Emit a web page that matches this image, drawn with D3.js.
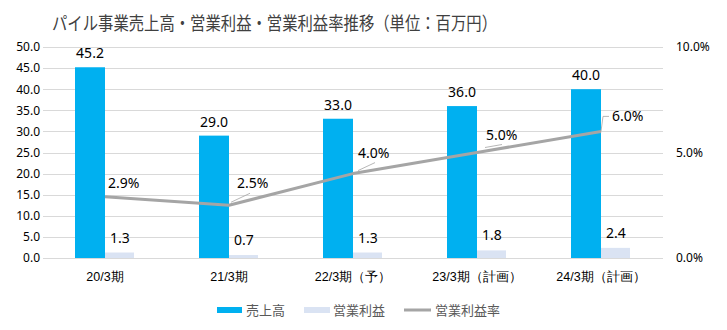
<!DOCTYPE html>
<html><head><meta charset="utf-8">
<script src="https://cdn.jsdelivr.net/npm/d3@7"></script>
<style>
body{margin:0;background:#fff;}
svg{display:block;font-family:"Noto Sans CJK JP","Noto Sans",sans-serif;}
</style></head>
<body><svg id="c" width="727" height="330"></svg>
<script>
const categories = ["20/3期","21/3期","22/3期（予）","23/3期（計画）","24/3期（計画）"];
const sales = [45.2, 29.0, 33.0, 36.0, 40.0];
const opProfit = [1.3, 0.7, 1.3, 1.8, 2.4];
const opMargin = [2.9, 2.5, 4.0, 5.0, 6.0];
const leftTicks = [0,5,10,15,20,25,30,35,40,45,50];
const rightTicks = [0,5,10];
const title = "パイル事業売上高・営業利益・営業利益率推移（単位：百万円）";
const seriesNames = ["売上高","営業利益","営業利益率"];
// label offsets for margin labels (layout only)
const marginLabelOffset = [[3,-9],[8,-17],[5,-16],[9,-13],[11,-10]];

const svg = d3.select("#c");
const L = 43, R = 663, T = 47, B = 258;
const x = d3.scaleBand().domain(categories).range([L,R]);
const y = d3.scaleLinear().domain([0,50]).range([B,T]);
const y2 = d3.scaleLinear().domain([0,10]).range([B,T]);
const bw = 30;
const cx = c => x(c) + x.bandwidth()/2;

svg.append("text").attr("x",52).attr("y",30)
  .attr("font-size",18.5).attr("fill","#404040")
  .attr("textLength",445).attr("lengthAdjust","spacingAndGlyphs").text(title);

// grid
svg.append("g").selectAll("line").data(leftTicks).join("line")
  .attr("x1",L).attr("x2",R).attr("y1",d=>Math.round(y(d))+0.5).attr("y2",d=>Math.round(y(d))+0.5)
  .attr("stroke","#d9d9d9").attr("stroke-width",1);

// left axis
const la = svg.append("g").attr("transform",`translate(${L-3},0)`)
  .call(d3.axisLeft(y).tickValues(leftTicks).tickFormat(d3.format(".1f")).tickSize(0).tickPadding(0));
la.select(".domain").remove();
la.selectAll("text").attr("font-size",12).attr("fill","#000").attr("font-family","Noto Sans");

const ra = svg.append("g").attr("transform",`translate(676,0)`)
  .call(d3.axisRight(y2).tickValues(rightTicks).tickFormat(d=>d3.format(".1f")(d)+"%").tickSize(0).tickPadding(0));
ra.select(".domain").remove();
ra.selectAll("text").attr("font-size",12).attr("fill","#000").attr("font-family","Noto Sans");

// x labels
const xa = svg.append("g").attr("transform",`translate(0,${B})`)
  .call(d3.axisBottom(x).tickSize(0).tickPadding(14));
xa.select(".domain").remove();
xa.selectAll("text").attr("font-size",12.5).attr("fill","#000");

// bars
svg.append("g").selectAll("rect").data(sales).join("rect")
  .attr("x",(d,i)=>cx(categories[i])-bw).attr("width",bw)
  .attr("y",d=>y(d)).attr("height",d=>B-y(d)).attr("fill","#00b0f0");
svg.append("g").selectAll("rect").data(opProfit).join("rect")
  .attr("x",(d,i)=>cx(categories[i])).attr("width",bw-1)
  .attr("y",d=>y(d)).attr("height",d=>B-y(d)).attr("fill","#dae3f3");

// bar labels
svg.append("g").selectAll("text").data(sales).join("text")
  .attr("x",(d,i)=>cx(categories[i])-bw/2).attr("y",d=>y(d)-9)
  .attr("text-anchor","middle").attr("font-size",14).attr("font-family","Noto Sans").attr("fill","#000")
  .text(d=>d3.format(".1f")(d));
svg.append("g").selectAll("text").data(opProfit).join("text")
  .attr("x",(d,i)=>cx(categories[i])+bw/2).attr("y",d=>y(d)-10)
  .attr("text-anchor","middle").attr("font-size",14).attr("font-family","Noto Sans").attr("fill","#000")
  .text(d=>d3.format(".1f")(d));

// line
const line = d3.line().x((d,i)=>cx(categories[i])).y(d=>y2(d));
svg.append("path").datum(opMargin).attr("d",line).attr("fill","none")
  .attr("stroke","#a5a5a5").attr("stroke-width",3).attr("stroke-linejoin","round");

// leader lines
const leaders = [null,
  [[2,-3],[21,-12]],
  [[5,-3],[22,-11]],
  [[8,-5],[25,-8]],
  [[0,0],[2,-15],[8,-15]]];
leaders.forEach((pts,i)=>{
  if(!pts) return;
  const px = cx(categories[i]), py = y2(opMargin[i]);
  svg.append("path").attr("d",d3.line()(pts.map(p=>[px+p[0],py+p[1]])))
    .attr("fill","none").attr("stroke","#a5a5a5").attr("stroke-width",0.8);
});

svg.append("g").selectAll("text").data(opMargin).join("text")
  .attr("x",(d,i)=>cx(categories[i])+marginLabelOffset[i][0])
  .attr("y",(d,i)=>y2(d)+marginLabelOffset[i][1])
  .attr("font-size",14).attr("font-family","Noto Sans").attr("fill","#000")
  .text(d=>d3.format(".1f")(d)+"%");

// legend
const lg = svg.append("g").attr("font-size",13).attr("fill","#595959");
const legendX = [217, 304, 404];
lg.append("rect").attr("x",legendX[0]).attr("y",307).attr("width",25).attr("height",6).attr("fill","#00b0f0");
lg.append("rect").attr("x",legendX[1]).attr("y",307).attr("width",26).attr("height",6).attr("fill","#dae3f3");
lg.append("line").attr("x1",legendX[2]).attr("x2",legendX[2]+27).attr("y1",310).attr("y2",310)
  .attr("stroke","#a5a5a5").attr("stroke-width",3);
[0,1,2].forEach(i=>{
  lg.append("text").attr("x",legendX[i]+(i===0?29:(i===1?29:31))).attr("y",315).text(seriesNames[i]);
});
</script></body></html>
